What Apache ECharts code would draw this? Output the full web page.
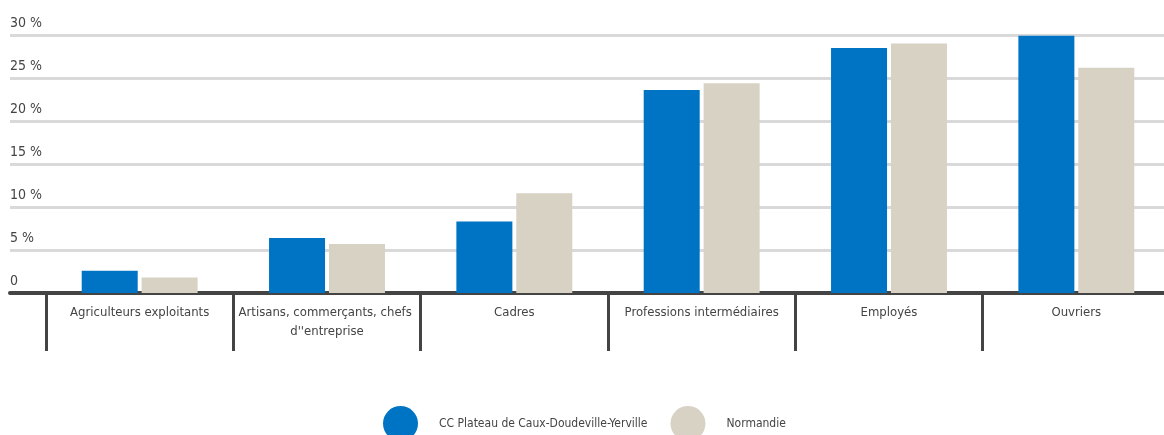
<!DOCTYPE html>
<html>
<head>
<meta charset="utf-8">
<script src="https://cdn.jsdelivr.net/npm/echarts@6/dist/echarts.min.js"></script>
<style>
html,body{margin:0;padding:0;background:#fff;}
#chart{width:1164px;height:435px;}
</style>
</head>
<body>
<div id="chart"></div>
<script>
const categories = ["Agriculteurs exploitants", "Artisans, commerçants, chefs d''entreprise", "Cadres", "Professions intermédiaires", "Employés", "Ouvriers"];
const seriesNames = ["CC Plateau de Caux-Doudeville-Yerville", "Normandie"];
const ccValues = [2.6, 6.4, 8.3, 23.6, 28.5, 29.9];
const normandieValues = [1.8, 5.7, 11.6, 24.4, 29.0, 26.2];
const yTicks = [0, 5, 10, 15, 20, 25, 30];

const FONT = '"Liberation Sans Narrow", "DejaVu Sans Condensed", "Roboto Condensed", sans-serif';
const chart = echarts.init(document.getElementById('chart'));
chart.setOption({
  animation: false,
  textStyle: { fontFamily: FONT },
  legend: {
    data: seriesNames,
    icon: 'circle',
    itemWidth: 35,
    itemHeight: 35,
    padding: 0,
    left: 383,
    top: 406,
    itemGap: 23,
    textStyle: { fontFamily: FONT, fontSize: 12, color: '#444', padding: [0, 0, 0, 16] }
  },
  grid: [
    { left: 10, right: 0, top: 35, bottom: 142, outerBoundsMode: 'none' },
    { left: 46, width: 1124, top: 35, bottom: 142, outerBoundsMode: 'none' }
  ],
  xAxis: [
    {
      gridIndex: 0, type: 'category', data: categories,
      axisLine: { show: true, lineStyle: { color: '#444', width: 4 } },
      axisTick: { show: false }, axisLabel: { show: false }, splitLine: { show: false }
    },
    {
      gridIndex: 1, type: 'category', data: categories,
      axisLine: { show: false },
      axisTick: { show: true, length: 58, lineStyle: { color: '#444', width: 3 } },
      axisLabel: {
        fontFamily: FONT, fontSize: 13, color: '#444', margin: 10,
        width: 192, overflow: 'break', lineHeight: 19, interval: 0
      }
    }
  ],
  yAxis: [
    {
      gridIndex: 0, type: 'value', min: yTicks[0], max: yTicks[yTicks.length - 1], interval: 5,
      axisLine: { show: false }, axisTick: { show: false },
      splitLine: { show: true, lineStyle: { color: '#d9d9d9', width: 3 } },
      axisLabel: {
        inside: true, margin: 0, align: 'left', verticalAlign: 'bottom',
        padding: [0, 0, 5, 0],
        fontFamily: FONT, fontSize: 14, color: '#444',
        formatter: v => v === 0 ? '0' : v + ' %'
      }
    },
    {
      gridIndex: 1, type: 'value', min: yTicks[0], max: yTicks[yTicks.length - 1], interval: 5,
      show: false
    }
  ],
  series: [
    {
      name: seriesNames[0], type: 'bar', xAxisIndex: 1, yAxisIndex: 1,
      data: ccValues, barWidth: 56, barGap: '7%',
      itemStyle: { color: '#0074c4' }
    },
    {
      name: seriesNames[1], type: 'bar', xAxisIndex: 1, yAxisIndex: 1,
      data: normandieValues, barWidth: 56, barGap: '7%',
      itemStyle: { color: '#d8d2c4' }
    }
  ]
});
</script>
</body>
</html>
